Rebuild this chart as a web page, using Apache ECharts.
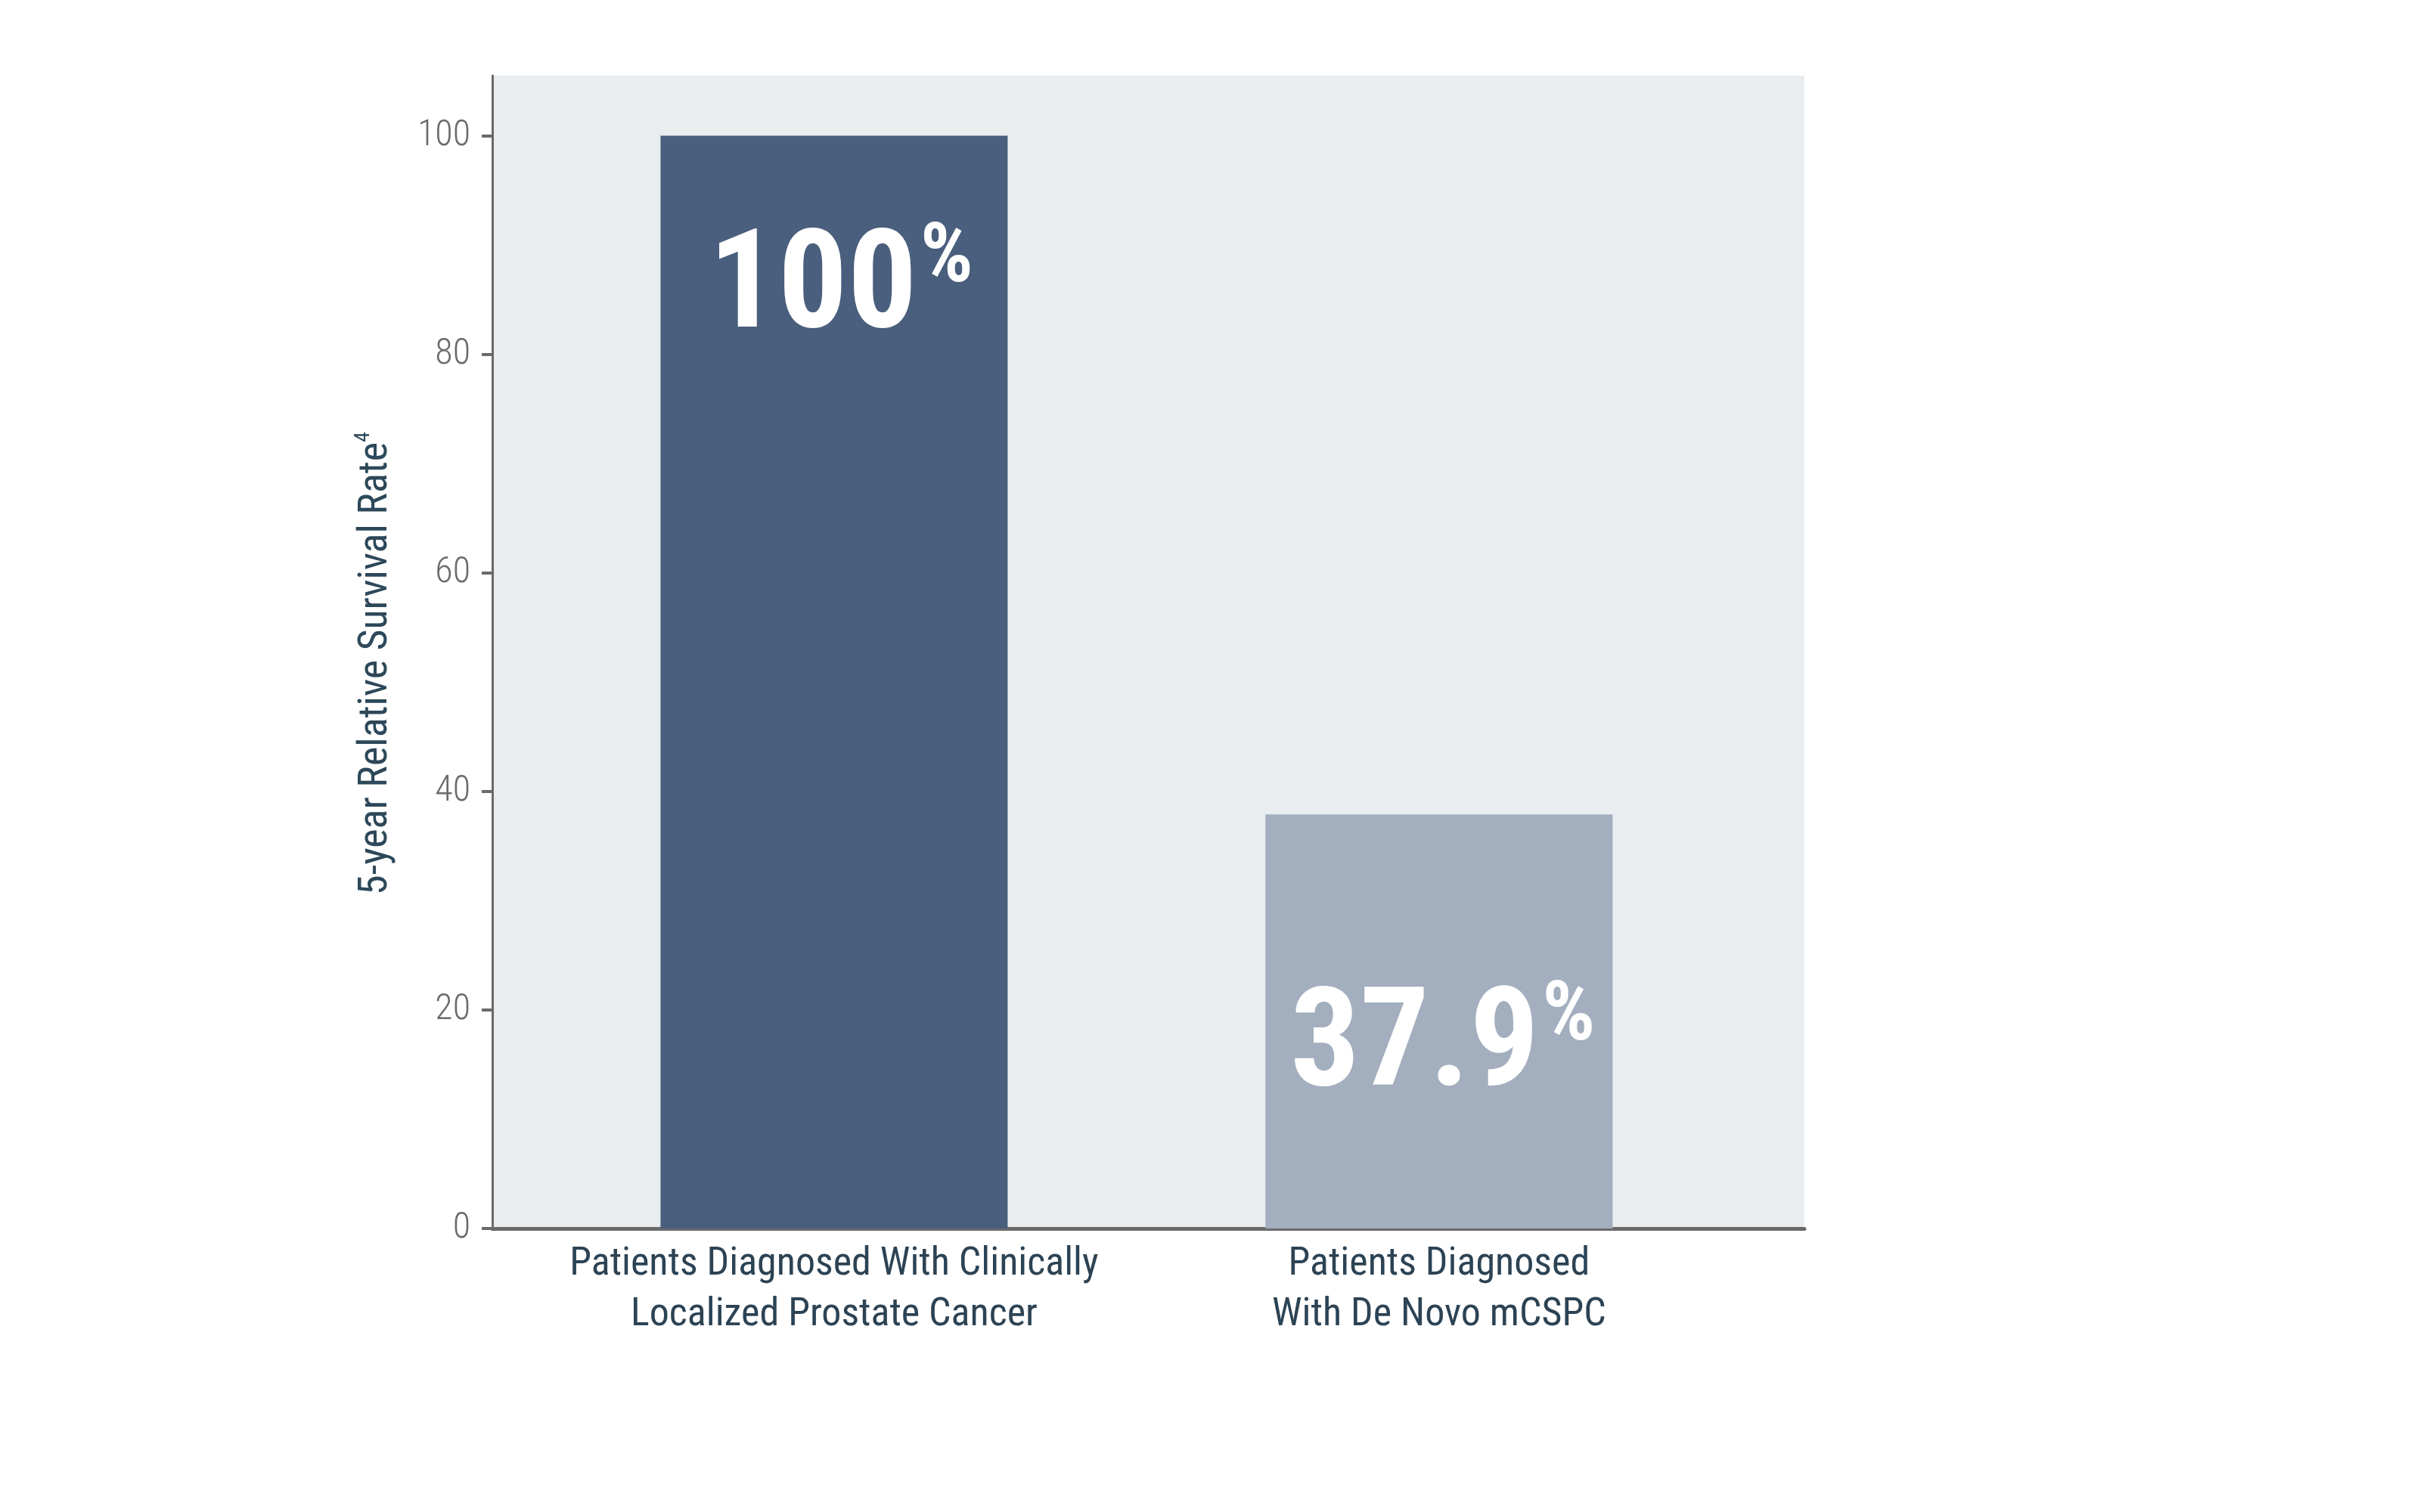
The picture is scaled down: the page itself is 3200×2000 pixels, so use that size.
<!DOCTYPE html>
<html>
<head>
<meta charset="utf-8">
<script src="https://cdn.jsdelivr.net/npm/echarts@6/dist/echarts.min.js"></script>
<style>html,body{margin:0;padding:0;background:#fff}#c{width:3200px;height:2000px}</style>
</head>
<body>
<div id="c"></div>
<script>
const categories = ['Patients Diagnosed With Clinically\nLocalized Prostate Cancer', 'Patients Diagnosed\nWith De Novo mCSPC'];
const values = [100, 37.9];
const yTicks = [0, 20, 40, 60, 80, 100];
const yTitle = '5-year Relative Survival Rate';
const yTitleSup = '4';

const FONT = "'Roboto Condensed', Roboto, sans-serif";
const STRETCH = 'normal condensed';
const barColors = ['#4a5e7d', '#a3aebe'];
const labelPlacement = [
  { position: 'insideTop', distance: 110, offset: [9, 0] },
  { position: 'inside', offset: [5, 38] }
];

const chart = echarts.init(document.getElementById('c'));
chart.setOption({
  animation: false,
  grid: {
    left: 651, right: 814, top: 100, bottom: 375,
    show: true, backgroundColor: '#e9edf0', borderWidth: 0
  },
  xAxis: {
    type: 'value', min: -0.565, max: 1.604,
    splitLine: { show: false },
    axisLine: { show: true, onZero: false, lineStyle: { color: '#6a6a6a', width: 5 } },
    axisTick: { show: false },
    axisLabel: {
      customValues: categories.map((c, i) => i),
      formatter: v => categories[Math.round(v)] || '',
      color: '#2c4354', fontFamily: FONT, fontStyle: STRETCH, fontSize: 52, lineHeight: 67, margin: 14
    }
  },
  yAxis: {
    type: 'value', min: 0, max: 105.5,
    splitLine: { show: false },
    axisLine: { show: true, onZero: false, lineStyle: { color: '#6a6a6a', width: 3 } },
    axisTick: { show: true, customValues: yTicks, length: 14, lineStyle: { color: '#6a6a6a', width: 4 } },
    axisLabel: { customValues: yTicks, color: '#6a6a6a', fontFamily: FONT, fontStyle: STRETCH, fontWeight: 300, fontSize: 48, margin: 29 },
    name: '{t|' + yTitle + '}{s|' + yTitleSup + '}',
    nameLocation: 'middle', nameGap: 124, nameRotate: 90,
    nameTextStyle: {
      padding: [0, 30, 0, 0],
      rich: {
        t: { fontFamily: FONT, fontStyle: STRETCH, fontWeight: 'normal', fontSize: 54, color: '#2d4859', lineHeight: 60 },
        s: { fontFamily: FONT, fontStyle: STRETCH, fontWeight: 'normal', fontSize: 28, color: '#2d4859', verticalAlign: 'top', lineHeight: 60 }
      }
    }
  },
  series: [{
    type: 'bar',
    barWidth: 459,
    data: values.map((v, i) => ({
      value: [i, v],
      itemStyle: { color: barColors[i] },
      label: Object.assign({
        show: true,
        formatter: p => '{n|' + p.value[1] + '}{p|%}',
        rich: {
          n: { fontFamily: FONT, fontStyle: STRETCH, fontWeight: 'bold', fontSize: 182, color: '#ffffff', lineHeight: 194 },
          p: { fontFamily: FONT, fontStyle: STRETCH, fontWeight: 'bold', fontSize: 110, color: '#ffffff', verticalAlign: 'top', lineHeight: 194, padding: [0, 0, 0, 4] }
        }
      }, labelPlacement[i])
    }))
  }]
});
</script>
</body>
</html>
